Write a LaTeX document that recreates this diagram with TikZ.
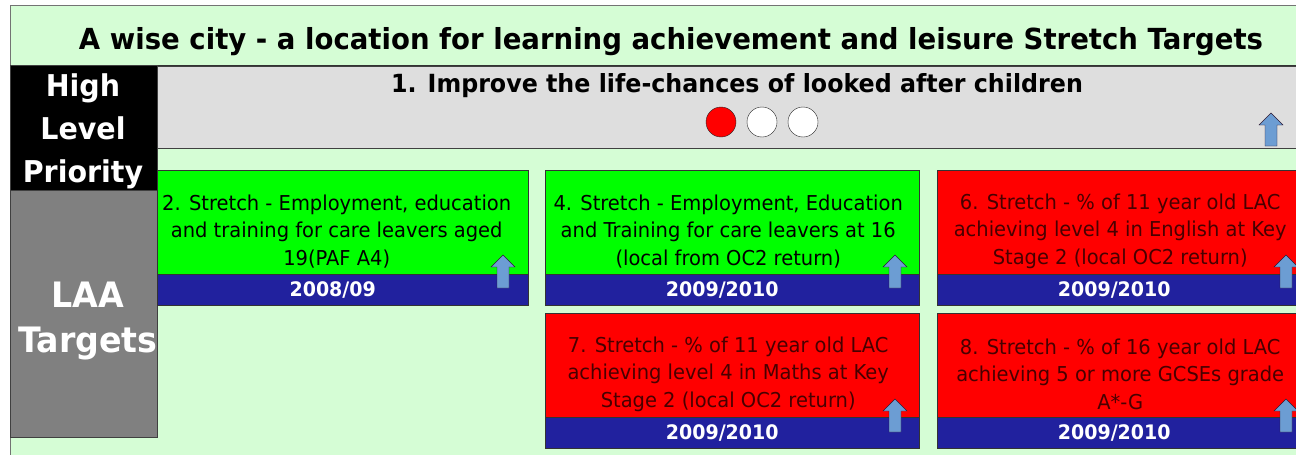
\documentclass[tikz,border=0pt]{standalone}
\usepackage{fontspec}
\setmainfont[FakeStretch=0.95]{DejaVu Sans}

\definecolor{mint}{HTML}{D5FDD5}
\definecolor{bandgray}{HTML}{DEDEDE}
\definecolor{lawn}{HTML}{00FF00}
\definecolor{navyband}{HTML}{21219E}
\definecolor{arrowblue}{HTML}{6C9DD3}
\definecolor{arrowline}{HTML}{2E1A33}
\definecolor{maroon}{HTML}{480000}

\begin{document}
\begin{tikzpicture}[x=1pt,y=-1pt,
  heading/.style={font=\bfseries\fontsize{29}{34}\selectfont},
  sidebox/.style={anchor=north west,minimum width=147pt,draw=black!75},
  sidetext/.style={text=white,align=center,inner sep=0pt,
    font=\bfseries\fontsize{30}{43}\selectfont},
  goalbox/.style={anchor=north west,minimum width=#1,minimum height=104pt,
    draw=black!80,inner sep=0pt},
  goalbox/.default=374pt,
  goaltext/.style={align=center,font=\fontsize{20.5}{27.5}\selectfont,inner sep=0pt},
  yearband/.style={anchor=north west,fill=navyband,draw=black!80,minimum height=31pt,
    text=white,font=\bfseries\fontsize{20}{22}\selectfont,inner sep=0pt,
    execute at end node=\hspace*{20pt}},
  rag/.style={circle,draw=black!85,minimum size=30pt,inner sep=0pt},
  trend/.style={fill=arrowblue,draw=arrowline,line join=miter}]
\useasboundingbox (0,0) rectangle (1296,455);
\clip (0,0) rectangle (1296,455);
\fill[white] (0,0) rectangle (1296,455);
\draw[fill=mint,draw=black!55] (10,5) rectangle (1320,475);

% banner
\node[heading] (title) at (671,42) {A wise city - a location for learning achievement and leisure Stretch Targets};
\draw[black!80] (10,65) -- (1320,65);

% priority row
\node[sidebox,fill=black,minimum height=125pt] (hlp) at (10,65) {};
\node[anchor=north west,fill=bandgray,draw=black!75,minimum width=1160pt,minimum height=82pt] (prio) at (157,66) {};
\node[font=\bfseries\fontsize{25}{28}\selectfont] (ptitle) at (737,86) {1. Improve the life-chances of looked after children};
\node[rag,fill=red] (c1) at (721,122) {};
\node[rag,fill=white] (c2) at (762,122) {};
\node[rag,fill=white] (c3) at (803,122) {};

% LAA targets
\node[sidebox,fill=black!50,minimum height=247pt] (laa) at (10,190) {};
\node[sidetext] (hlptext) at (83,131) {High\\Level\\Priority};
\node[sidetext,font=\bfseries\fontsize{35}{45}\selectfont] (laatext) at (88,321) {LAA\\Targets};

\node[goalbox=371pt,fill=lawn] (g2) at (157,170) {};
\node[yearband,minimum width=371pt] (y2) at (g2.south west) {2008/09};
\node[goaltext] (t2) at ([xshift=-6pt,yshift=-9pt]g2.center) {2. Stretch - Employment, education\\and training for care leavers aged\\19(PAF A4)};

\node[goalbox,fill=lawn] (g4) at (545,170) {};
\node[yearband,minimum width=374pt] (y4) at (g4.south west) {2009/2010};
\node[goaltext] (t4) at ([xshift=-4pt,yshift=-9pt]g4.center) {4. Stretch - Employment, Education\\and Training for care leavers at 16\\(local from OC2 return)};

\node[goalbox,fill=red] (g6) at (937,170) {};
\node[yearband,minimum width=374pt] (y6) at (g6.south west) {2009/2010};
\node[goaltext,text=maroon] (t6) at ([xshift=-4pt,yshift=-9pt]g6.center) {6. Stretch - \% of 11 year old LAC\\achieving level 4 in English at Key\\Stage 2 (local OC2 return)};

\node[goalbox,fill=red] (g7) at (545,313) {};
\node[yearband,minimum width=374pt] (y7) at (g7.south west) {2009/2010};
\node[goaltext,text=maroon] (t7) at ([xshift=-4pt,yshift=-9pt]g7.center) {7. Stretch - \% of 11 year old LAC\\achieving level 4 in Maths at Key\\Stage 2 (local OC2 return)};

\node[goalbox,fill=red] (g8) at (937,313) {};
\node[yearband,minimum width=374pt] (y8) at (g8.south west) {2009/2010};
\node[goaltext,text=maroon] (t8) at ([xshift=-4pt,yshift=-9pt]g8.center) {8. Stretch - \% of 16 year old LAC\\achieving 5 or more GCSEs grade\\A*-G};

% direction of travel
\foreach \ax/\ay in {1271/132,503/274,895/274,1286/274,895/418,1286/418}
  \draw[trend,shift={(\ax,\ay)}] (0,-19) -- (12,-7) -- (6,-7) -- (6,14)
    -- (-6,14) -- (-6,-7) -- (-12,-7) -- cycle;
\end{tikzpicture}
\end{document}
